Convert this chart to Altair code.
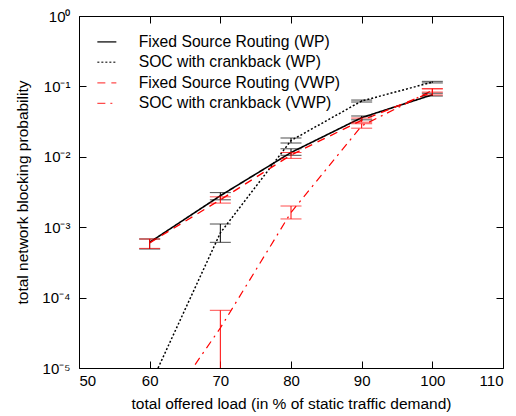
import altair as alt
import pandas as pd

# ---- data ----
loads = [60, 70, 80, 90, 100]
series_names = [
    "Fixed Source Routing (WP)",
    "SOC with crankback (WP)",
    "Fixed Source Routing (VWP)",
    "SOC with crankback (VWP)",
]
fsr_wp = [6.1e-4, 2.8e-3, 1.15e-2, 3.6e-2, 7.6e-2]
fsr_wp_lo = [4.9e-4, 2.45e-3, 1.05e-2, 3.35e-2, 7.3e-2]
fsr_wp_hi = [6.8e-4, 3.1e-3, 1.3e-2, 3.8e-2, 8.0e-2]

soc_wp = [5.5e-6, 8.3e-4, 1.7e-2, 6.2e-2, 0.115]
soc_wp_lo = [5.0e-6, 6.1e-4, 1.57e-2, 6.0e-2, 0.112]
soc_wp_hi = [6.0e-6, 1.11e-3, 1.85e-2, 6.4e-2, 0.118]

fsr_vwp = [6.0e-4, 2.45e-3, 1.06e-2, 3.3e-2, 8.3e-2]
fsr_vwp_lo = [5.0e-4, 2.2e-3, 9.5e-3, 3.1e-2, 7.55e-2]
fsr_vwp_hi = [6.8e-4, 2.7e-3, 1.15e-2, 3.55e-2, 9.2e-2]

soc_vwp = [1.3e-6, 3.7e-5, 1.62e-3, 2.75e-2, 8.8e-2]
soc_vwp_lo = [1.0e-6, 1.0e-6, 1.31e-3, 2.55e-2, 8.3e-2]
soc_vwp_hi = [1.5e-6, 6.6e-5, 2.0e-3, 2.95e-2, 9.3e-2]

x_ticks = [50, 60, 70, 80, 90, 100, 110]
y_ticks = [1e-5, 1e-4, 1e-3, 1e-2, 1e-1, 1e0]

colors = ["#000000", "#000000", "#ff0000", "#ff0000"]
dashes = [[1, 0], [2, 2], [8, 6], [8, 5, 2, 5]]
widths = [1.6, 1.2, 1.1, 1.1]

rows = []
for k, (name, v, lo, hi) in enumerate(zip(
    series_names,
    [fsr_wp, soc_wp, fsr_vwp, soc_vwp],
    [fsr_wp_lo, soc_wp_lo, fsr_vwp_lo, soc_vwp_lo],
    [fsr_wp_hi, soc_wp_hi, fsr_vwp_hi, soc_vwp_hi],
)):
    for i, x in enumerate(loads):
        rows.append({"series": name, "load": x, "p": v[i], "lo": lo[i], "hi": hi[i], "order": k})
df = pd.DataFrame(rows)

FONT = "Liberation Sans"

xs = alt.Scale(domain=[50, 110], nice=False, zero=False)
ys = alt.Scale(type="log", domain=[1e-5, 1], nice=False)

label_expr = (
    "round(log(datum.value)/LN10) == 0 ? '10\u2070' : "
    "round(log(datum.value)/LN10) == -1 ? '10\u207b\u00b9' : "
    "round(log(datum.value)/LN10) == -2 ? '10\u207b\u00b2' : "
    "round(log(datum.value)/LN10) == -3 ? '10\u207b\u00b3' : "
    "round(log(datum.value)/LN10) == -4 ? '10\u207b\u2074' : '10\u207b\u2075'"
)

common = dict(ticks=False, domain=True, domainColor="#000000", domainWidth=1,
              grid=True, gridDash=[7, 2000], gridColor="#000000", gridOpacity=1)

x_axis = alt.Axis(values=x_ticks, orient="bottom", title="total offered load (in % of static traffic demand)",
                  labelPadding=5, labelFontSize=15, titleFontSize=15.5,
                  titleFontWeight="normal", labelColor="#000", titleColor="#000",
                  titleY=35, titleBaseline="middle", labelFont=FONT, titleFont=FONT, **common)
y_axis = alt.Axis(values=y_ticks, orient="left", title="total network blocking probability",
                  labelExpr=label_expr, labelPadding=9, labelFontSize=15,
                  titleFontSize=15.5, titleFontWeight="normal", labelColor="#000", titleColor="#000",
                  titleX=-57, titleY=176, titleBaseline="middle", labelFont=FONT, titleFont=FONT,
                  **common)
x_axis_top = alt.Axis(values=x_ticks, orient="top", title=None, labels=False, **common)
y_axis_right = alt.Axis(values=y_ticks, orient="right", title=None, labels=False, **common)

color_scale = alt.Scale(domain=series_names, range=colors)
legend = alt.Legend(title=None, orient="none", legendX=20, legendY=18,
                    symbolType="M-1.9,0H1.9", symbolSize=100, symbolStrokeWidth=1.3,
                    symbolFillColor="transparent",
                    labelFontSize=15.7, labelFont=FONT, labelColor="#000",
                    labelOffset=24, rowPadding=3.5, padding=0, labelLimit=400)

lines = alt.Chart(df).mark_line(clip=True).encode(
    x=alt.X("load:Q", scale=xs, axis=x_axis),
    y=alt.Y("p:Q", scale=ys, axis=y_axis),
    color=alt.Color("series:N", scale=color_scale, legend=legend, sort=series_names),
    strokeDash=alt.StrokeDash("series:N", scale=alt.Scale(domain=series_names, range=dashes),
                              legend=legend, sort=series_names),
    strokeWidth=alt.StrokeWidth("series:N", scale=alt.Scale(domain=series_names, range=widths),
                                legend=None),
    order="load:Q",
)

color_enc = alt.Color("series:N", scale=color_scale)

bars = alt.Chart(df).mark_rule(clip=True, strokeWidth=1).encode(
    x=alt.X("load:Q", scale=xs, axis=None),
    y=alt.Y("lo:Q", scale=ys, axis=None),
    y2="hi:Q",
    color=color_enc,
)
caps_lo = alt.Chart(df).mark_tick(clip=True, size=21, thickness=1, orient="horizontal").encode(
    x=alt.X("load:Q", scale=xs, axis=None),
    y=alt.Y("lo:Q", scale=ys, axis=None),
    color=color_enc,
)
caps_hi = alt.Chart(df).mark_tick(clip=True, size=21, thickness=1, orient="horizontal").encode(
    x=alt.X("load:Q", scale=xs, axis=None),
    y=alt.Y("hi:Q", scale=ys, axis=None),
    color=color_enc,
)
mirror = alt.Chart(df).mark_point(opacity=0).encode(
    x=alt.X("load:Q", scale=xs, axis=x_axis_top),
    y=alt.Y("p:Q", scale=ys, axis=y_axis_right),
)

chart = alt.layer(
    lines,
    bars.transform_filter("datum.order < 2"),
    caps_lo.transform_filter("datum.order < 2"),
    caps_hi.transform_filter("datum.order < 2"),
    bars.transform_filter("datum.order >= 2"),
    caps_lo.transform_filter("datum.order >= 2"),
    caps_hi.transform_filter("datum.order >= 2"),
    mirror,
).resolve_axis(x="independent", y="independent").properties(
    width=424, height=352,
    autosize=alt.AutoSizeParams(type="none"),
    padding={"left": 71, "top": 8, "right": 5, "bottom": 48},
).configure_view(stroke="#000000", strokeWidth=1).configure(background="#ffffff")

chart.save("out.html", embed_options={"renderer": "svg", "actions": False})
